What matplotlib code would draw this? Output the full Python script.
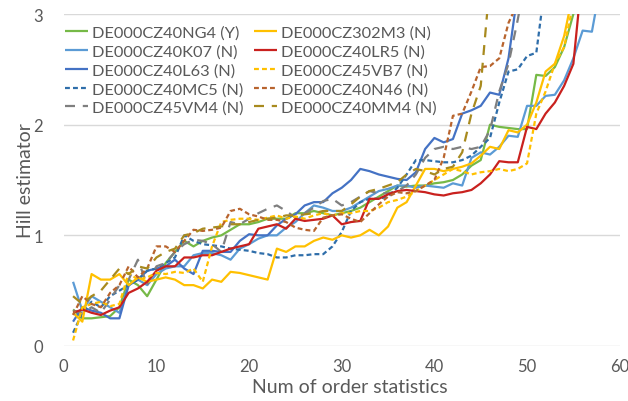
import matplotlib
matplotlib.use("Agg")
import matplotlib.pyplot as plt
import numpy as np

plt.rcParams['font.family'] = ['Lato', 'DejaVu Sans']

labels = ["DE000CZ40NG4 (Y)", "DE000CZ40K07 (N)", "DE000CZ40L63 (N)", "DE000CZ40MC5 (N)", "DE000CZ45VM4 (N)",
          "DE000CZ302M3 (N)", "DE000CZ40LR5 (N)", "DE000CZ45VB7 (N)", "DE000CZ40N46 (N)", "DE000CZ40MM4 (N)"]

ng4 = [0.33, 0.25, 0.25, 0.26, 0.27, 0.35, 0.6, 0.55, 0.45, 0.6,
       0.75, 0.85, 0.95, 0.9, 0.95, 0.98, 1.0, 1.05, 1.1, 1.1,
       1.12, 1.15, 1.15, 1.15, 1.2, 1.2, 1.22, 1.2, 1.18, 1.2,
       1.22, 1.25, 1.3, 1.35, 1.4, 1.45, 1.44, 1.45, 1.45, 1.47,
       1.48, 1.5, 1.55, 1.63, 1.68, 2.0, 1.98, 1.97, 1.96, 1.96,
       2.45, 2.44, 2.52, 2.7, 3.0, 3.4]
k07 = [0.58, 0.32, 0.45, 0.4, 0.35, 0.3, 0.55, 0.6, 0.55, 0.65,
       0.7, 0.72, 0.72, 0.82, 0.84, 0.84, 0.82, 0.78, 0.88, 0.92,
       0.97, 1.0, 1.0, 1.07, 1.12, 1.2, 1.27, 1.25, 1.22, 1.22,
       1.25, 1.3, 1.35, 1.4, 1.42, 1.45, 1.45, 1.43, 1.45, 1.44,
       1.43, 1.47, 1.45, 1.7, 1.75, 1.73, 1.8, 1.9, 1.89, 2.17,
       2.17, 2.26, 2.27, 2.4, 2.6, 2.85, 2.84, 3.3]
l63 = [0.22, 0.35, 0.32, 0.3, 0.25, 0.25, 0.55, 0.6, 0.68, 0.7,
       0.72, 0.78, 0.7, 0.65, 0.86, 0.86, 0.85, 0.85, 0.95, 1.01,
       1.0, 1.0, 1.09, 1.15, 1.19, 1.27, 1.3, 1.3, 1.38, 1.43,
       1.5, 1.6, 1.58, 1.55, 1.53, 1.51, 1.5, 1.57, 1.78, 1.88,
       1.84, 1.87, 2.1, 2.13, 2.17, 2.29, 2.27, 2.6, 3.2]
mc5 = [0.12, 0.3, 0.4, 0.35, 0.45, 0.5, 0.55, 0.6, 0.68, 0.7,
       0.75, 0.8, 1.0, 0.95, 0.92, 0.91, 0.9, 0.88, 0.87, 0.86,
       0.84, 0.83, 0.8, 0.8, 0.82, 0.82, 0.83, 0.83, 0.9, 1.03,
       1.22, 1.3, 1.33, 1.33, 1.35, 1.43, 1.55, 1.68, 1.68, 1.67,
       1.66, 1.66, 1.68, 1.72, 1.8, 1.88, 2.2, 2.48, 2.5, 2.62,
       2.65, 3.3]
vm4 = [0.32, 0.3, 0.35, 0.3, 0.42, 0.55, 0.6, 0.78, 0.55, 0.72,
       0.75, 0.85, 0.92, 0.96, 0.95, 0.92, 0.85, 1.12, 1.1, 1.15,
       1.2, 1.24, 1.27, 1.22, 1.16, 1.2, 1.25, 1.31, 1.33, 1.27,
       1.3, 1.35, 1.4, 1.38, 1.38, 1.4, 1.45, 1.55, 1.7, 1.78,
       1.8, 1.78, 1.8, 1.78, 1.8, 1.95, 2.3, 2.55, 2.95, 3.4]
m302 = [0.3, 0.22, 0.65, 0.6, 0.6, 0.65, 0.55, 0.62, 0.58, 0.6,
        0.62, 0.6, 0.55, 0.55, 0.52, 0.6, 0.58, 0.67, 0.66, 0.64,
        0.62, 0.6, 0.88, 0.85, 0.9, 0.9, 0.95, 0.98, 0.96, 1.0,
        0.98, 1.0, 1.05, 1.0, 1.08, 1.25, 1.3, 1.45, 1.6, 1.6,
        1.58, 1.6, 1.62, 1.65, 1.72, 1.8, 1.78, 1.95, 1.93, 2.0,
        2.2, 2.48, 2.55, 2.8, 3.2]
lr5 = [0.3, 0.33, 0.3, 0.28, 0.32, 0.35, 0.48, 0.52, 0.58, 0.68,
       0.72, 0.72, 0.8, 0.8, 0.82, 0.82, 0.85, 0.88, 0.9, 0.92,
       1.06, 1.08, 1.1, 1.06, 1.15, 1.13, 1.14, 1.15, 1.18, 1.1,
       1.12, 1.13, 1.33, 1.33, 1.37, 1.4, 1.41, 1.4, 1.39, 1.37,
       1.36, 1.38, 1.39, 1.41, 1.47, 1.55, 1.67, 1.66, 1.66, 1.98,
       1.96, 2.1, 2.2, 2.35, 2.55, 3.4]
vb7 = [0.05, 0.35, 0.38, 0.4, 0.36, 0.38, 0.66, 0.6, 0.62, 0.66,
       0.65, 0.67, 0.66, 0.7, 0.58, 0.9, 1.12, 1.14, 1.15, 1.15,
       1.14, 1.16, 1.18, 1.15, 1.17, 1.15, 1.18, 1.2, 1.18, 1.2,
       1.2, 1.22, 1.22, 1.25, 1.3, 1.32, 1.35, 1.4, 1.45, 1.5,
       1.55, 1.6, 1.58, 1.55, 1.57, 1.58, 1.6, 1.58, 1.6, 1.65,
       2.1, 2.3, 2.55, 2.7, 3.1]
n46 = [0.28, 0.45, 0.38, 0.35, 0.48, 0.55, 0.72, 0.62, 0.7, 0.9,
       0.9, 0.85, 0.95, 1.05, 1.04, 1.05, 1.07, 1.22, 1.24, 1.19,
       1.17, 1.14, 1.14, 1.12, 1.07, 1.05, 1.04, 1.16, 1.18, 1.19,
       1.15, 1.12, 1.2, 1.28, 1.35, 1.39, 1.38, 1.4, 1.45, 1.5,
       1.7, 2.08, 2.1, 2.3, 2.52, 2.53, 2.6, 2.92, 3.1]
mm4 = [0.45, 0.38, 0.45, 0.5, 0.6, 0.7, 0.65, 0.72, 0.7, 0.8,
       0.85, 0.88, 1.0, 1.02, 1.06, 1.07, 1.08, 1.1, 1.1, 1.12,
       1.14, 1.15, 1.16, 1.18, 1.18, 1.19, 1.2, 1.22, 1.22, 1.22,
       1.28, 1.35, 1.4, 1.42, 1.45, 1.48, 1.55, 1.6, 1.58, 1.55,
       1.6, 1.62, 1.75, 2.1, 2.35, 3.3]

series = [ng4, k07, l63, mc5, vm4, m302, lr5, vb7, n46, mm4]
colors = ['#76B947', '#5B9BD5', '#4472C4', '#2F6EAA', '#7F7F7F',
          '#FFC000', '#C9211E', '#FFC000', '#B8642E', '#A88A1E']
short = (0, (2.2, 1.4))
long_ = (0, (4.5, 3.5))
styles = ['-', '-', '-', short, long_, '-', '-', short, short, long_]

fig = plt.figure(figsize=(6.28, 4.02), dpi=100)
ax = fig.add_axes([63.8/628, 1-347/402, (619.7-63.8)/628, (347-15)/402])

handles = []
for vals, c, ls, lab in zip(series, colors, styles, labels):
    x = np.arange(1, len(vals)+1)
    h, = ax.plot(x, vals, color=c, linestyle=ls, linewidth=1.6, label=lab,
                 solid_capstyle='butt', dash_capstyle='butt')
    handles.append(h)

ax.set_xlim(0, 60)
ax.set_ylim(0, 3)
ax.set_xticks(np.arange(0, 61, 10))
ax.set_yticks([0, 1, 2, 3])
ax.grid(axis='y', color='#D9D9D9', linewidth=1)
ax.set_axisbelow(True)
for s in ax.spines.values():
    s.set_visible(False)
ax.tick_params(length=0, labelsize=12, labelcolor='#595959', pad=9)
ax.tick_params(axis='y', pad=15)

ax.set_xlabel('Num of order statistics', fontsize=14, color='#595959')
ax.set_ylabel('Hill estimator', fontsize=14, color='#595959')
ax.xaxis.set_label_coords(0.515, -0.097)
ax.yaxis.set_label_coords(-0.054, 0.5)

leg = ax.legend(handles=handles, ncol=2, loc='upper left',
                bbox_to_anchor=(-0.004, 0.975), frameon=False,
                fontsize=11.8, labelcolor='#595959', handlelength=1.4,
                handletextpad=0.28, columnspacing=0.6, labelspacing=0.26,
                borderaxespad=0.0, borderpad=0.2)

fig.savefig('out.png', dpi=100)
